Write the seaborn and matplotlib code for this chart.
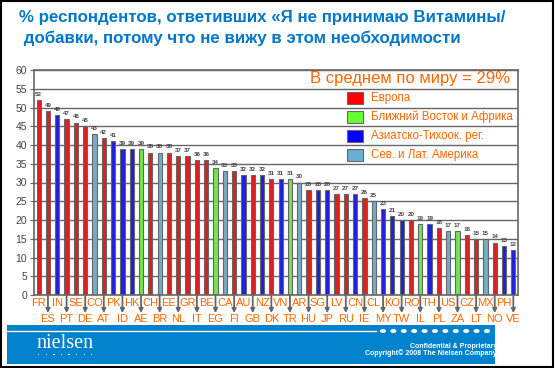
import numpy as np
import pandas as pd
import matplotlib
matplotlib.use("Agg")
import matplotlib.pyplot as plt
import seaborn as sns
from matplotlib.patches import Rectangle, Circle
from matplotlib.lines import Line2D

countries = ['FR', 'ES', 'IN', 'PT', 'SE', 'DE', 'CO', 'AT', 'PK', 'ID', 'HK', 'AE', 'CH',
             'BR', 'EE', 'NL', 'GR', 'IT', 'BE', 'EG', 'CA', 'FI', 'AU', 'GB', 'NZ', 'DK',
             'VN', 'TR', 'AR', 'HU', 'SG', 'JP', 'LV', 'RU', 'CN', 'IE', 'CL', 'MY', 'KO',
             'TW', 'RO', 'IL', 'TH', 'PL', 'US', 'ZA', 'CZ', 'LT', 'MX', 'NO', 'PH', 'VE']
values = [52, 49, 48, 47, 46, 45, 43, 42, 41, 39, 39, 39, 38,
          38, 38, 37, 37, 36, 36, 34, 33, 33, 32, 32, 32, 31,
          31, 31, 30, 28, 28, 28, 27, 27, 27, 26, 25, 23, 21,
          20, 20, 19, 19, 18, 17, 17, 16, 15, 15, 14, 13, 12]
# E = Европа, M = Ближний Восток и Африка, A = Азиатско-Тихоок., L = Сев. и Лат. Америка
regions = ['E', 'E', 'A', 'E', 'E', 'E', 'L', 'E', 'A', 'A', 'A', 'M', 'E',
           'L', 'E', 'E', 'E', 'E', 'E', 'M', 'L', 'E', 'A', 'E', 'A', 'E',
           'A', 'M', 'L', 'E', 'A', 'A', 'E', 'E', 'A', 'E', 'L', 'A', 'A',
           'A', 'E', 'M', 'A', 'E', 'L', 'M', 'E', 'E', 'L', 'E', 'A', 'A']
region_names = {'E': 'Европа', 'M': 'Ближний Восток и Африка',
                'A': 'Азиатско-Тихоок. рег.', 'L': 'Сев. и Лат. Америка'}
region_colors = {'E': '#FF0000', 'M': '#66FF33', 'A': '#0000FF', 'L': '#6AAFD2'}

title = "% респондентов, ответивших «Я не принимаю Витамины/\n добавки, потому что не вижу в этом необходимости"
avg_text = "В среднем по миру = 29%"

df = pd.DataFrame({'country': countries, 'value': values, 'region': regions})

sns.set_style("white")
plt.rcParams['font.family'] = ['Liberation Sans', 'DejaVu Sans']

orange = '#FF6600'
grey = '#666666'

fig = plt.figure(figsize=(5.55, 3.68), dpi=100)
ax = fig.add_axes([34 / 555, 1 - 295 / 368, 484 / 555, 225 / 368])

sns.barplot(data=df, x='country', y='value', hue='region', palette=region_colors,
            dodge=False, width=0.45, edgecolor=grey, linewidth=0.8, legend=False, ax=ax)

ax.set_xlim(-0.5, len(countries) - 0.5)
ax.set_ylim(0, 60)
ax.set_yticks(range(0, 61, 5))
ax.yaxis.grid(True, color=grey, linewidth=1)
ax.set_axisbelow(True)
for s in ax.spines.values():
    s.set_color(grey)
    s.set_linewidth(1.2)
ax.tick_params(axis='y', left=True, length=3, color=grey, labelsize=7.5,
               labelcolor='#444444', pad=2)
ax.set_xticks([])
ax.set_xlabel('')
ax.set_ylabel('')

# value labels
for i, v in enumerate(values):
    ax.text(i, v + 0.8, str(v), ha='center', va='bottom', fontsize=4.5,
            fontweight='bold', color='#444444')

# alternating country labels, the lower row gets arrows
for i, c in enumerate(countries):
    if i % 2 == 0:
        ax.annotate(c, xy=(i, 0), xycoords=('data', 'axes fraction'),
                    xytext=(0, -6), textcoords='offset points',
                    ha='center', va='center', fontsize=8, color=orange,
                    annotation_clip=False)
    else:
        ax.annotate('', xy=(i, 0), xycoords=('data', 'axes fraction'),
                    xytext=(0, -13), textcoords='offset points',
                    arrowprops=dict(arrowstyle='<|-', color=grey, lw=1.3,
                                    mutation_scale=6, shrinkA=0, shrinkB=0),
                    annotation_clip=False)
        ax.annotate(c, xy=(i, 0), xycoords=('data', 'axes fraction'),
                    xytext=(0, -17), textcoords='offset points',
                    ha='center', va='center', fontsize=8, color=orange,
                    annotation_clip=False)

# average and legend drawn on the grid
fig.text(510 / 555, 1 - 79 / 368, avg_text, ha='right', va='center',
         fontsize=12, color=orange)
leg_y = [98, 117, 136, 155]
for key, ly in zip(['E', 'M', 'A', 'L'], leg_y):
    fig.patches.append(Rectangle((347 / 555, 1 - (ly + 6) / 368), 16 / 555, 12 / 368,
                                 transform=fig.transFigure, facecolor=region_colors[key],
                                 edgecolor=grey, linewidth=0.8))
    fig.text(371 / 555, 1 - ly / 368, region_names[key], ha='left', va='center',
             fontsize=8.3, color=orange)

# title
fig.text(19 / 555, 1 - 28 / 368, title, ha='left', va='center', fontsize=12.2,
         fontweight='bold', color='#0077C8', linespacing=1.4)

# footer band
fig.patches.append(Rectangle((7 / 555, 1 - 364 / 368), 488 / 555, 39 / 368,
                             transform=fig.transFigure, facecolor='#0082CC',
                             edgecolor='none'))
fig.lines.append(Line2D([7 / 555, 376 / 555], [1 - 331 / 368] * 2,
                        transform=fig.transFigure, color='white', lw=1))
for k in range(11):
    cx = 383 + k * (487 - 383) / 10
    fig.patches.append(Circle((cx / 555, 1 - 331 / 368), 3 / 555,
                              transform=fig.transFigure, facecolor='white',
                              edgecolor='none'))
fig.text(36 / 555, 1 - 344 / 368, 'nielsen', ha='left', va='center', fontsize=14.5,
         color='white', family='Liberation Serif')
for k in range(8):
    fig.patches.append(Rectangle(((38 + k * 7.6) / 555, 1 - 355 / 368), 1.3 / 555, 1.5 / 368,
                                 transform=fig.transFigure, facecolor='white',
                                 edgecolor='none'))
fig.text(497 / 555, 1 - 346 / 368, 'Confidential & Proprietary', ha='right', va='center',
         fontsize=5, color='white', fontweight='bold')
fig.text(497 / 555, 1 - 353 / 368, 'Copyright© 2008 The Nielsen Company', ha='right',
         va='center', fontsize=5, color='white', fontweight='bold')

# outer frame
fig.patches.append(Rectangle((0.002, 0.003), 0.994, 0.993, transform=fig.transFigure,
                             facecolor='none', edgecolor='black', linewidth=1.5))

fig.savefig('out.png', dpi=100)
